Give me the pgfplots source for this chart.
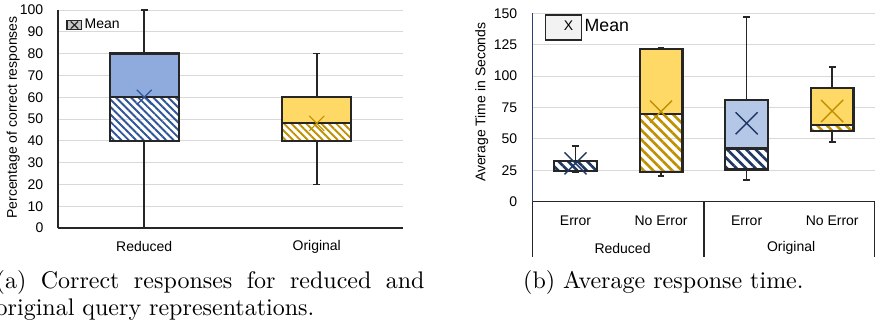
\documentclass[border=0pt]{standalone}
\usepackage{fontspec}
\newfontfamily\arial{Liberation Sans}
\usepackage{pgfplots}
\pgfplotsset{compat=1.18}
\usetikzlibrary{patterns.meta}
\definecolor{bluefill}{HTML}{8FAADC}
\definecolor{bluehatch}{HTML}{2F5597}
\definecolor{goldfill}{HTML}{FFD966}
\definecolor{goldhatch}{HTML}{BF9000}
\definecolor{lightblue}{HTML}{B4C7E7}
\definecolor{navy}{HTML}{203864}
\definecolor{navyline}{HTML}{2F3F6F}
\definecolor{gridc}{HTML}{D9D9D9}
\definecolor{boxline}{HTML}{262626}
\definecolor{legfill}{HTML}{F2F2F2}
\newcommand{\chartfont}{\arial\fontsize{5.83}{7}\selectfont}
\pgfplotsset{
  common/.style={
    scale only axis, anchor=south west, clip=false,
    axis x line=bottom, axis y line=left, axis line style={-},
    x axis line style={draw=boxline, line width=0.6pt},
    major tick length=0pt,
    ymajorgrids, grid style={gridc, line width=0.4pt},
    tick label style={font=\chartfont},
    /pgf/number format/assume math mode=true,
    yticklabel={\pgfmathprintnumber[assume math mode=true]{\tick}},
    label style={font=\chartfont},
  },
  solid/.style={draw=none, fill=#1},
  hatch/.style={draw=none, pattern={Lines[angle=-45,distance=2.2pt,line width=0.8pt]}, pattern color=#1},
  hatchb/.style={draw=none, pattern={Lines[angle=-45,distance=2.8pt,line width=1.1pt]}, pattern color=#1},
  outline/.style={draw=boxline, line width=0.95pt},
  whisk/.style={draw=boxline, line width=0.7pt},
}
\begin{document}
\begin{tikzpicture}
\useasboundingbox (0,0) rectangle (364.583pt,135.417pt);
% ---------------- (a)
\begin{axis}[common,
  at={(24.167pt,40.417pt)}, width=143.75pt, height=90.833pt,
  xmin=-0.5, xmax=1.5, ymin=0, ymax=100,
  y axis line style={draw=boxline, line width=0.6pt},
  xtick={0,1}, xticklabels={Reduced,Original},
  ytick={0,10,...,100},
  xticklabel style={anchor=center, yshift=-7.7pt},
  yticklabel style={xshift=-2.6pt},
  ylabel={Percentage of correct responses},
  ylabel style={at={(axis description cs:-0.130,0.507)}, anchor=center},
  legend style={at={(axis description cs:0.023,0.931)}, anchor=west, draw=none, fill=none,
    inner sep=0pt, font=\chartfont, nodes={inner sep=0.9pt}},
  legend cell align=left,
]
\addlegendimage{legend image code/.code={
  \draw[fill=gray!45, draw=boxline, line width=0.6pt] (0pt,-1.95pt) rectangle (6.1pt,1.95pt);
  \draw[boxline, line width=0.5pt] (1.5pt,-1.5pt) -- (4.6pt,1.5pt) (1.5pt,1.5pt) -- (4.6pt,-1.5pt);}}
\addlegendentry{Mean}
% Reduced
\addplot[solid=bluefill] coordinates {(-0.2,60) (0.2,60) (0.2,80) (-0.2,80)} -- cycle;
\addplot[hatch=bluehatch] coordinates {(-0.2,40) (0.2,40) (0.2,60) (-0.2,60)} -- cycle;
\addplot[outline] coordinates {(-0.2,40) (0.2,40) (0.2,80) (-0.2,80)} -- cycle;
\addplot[outline] coordinates {(-0.2,60) (0.2,60)};
\addplot[whisk] coordinates {(0,80) (0,100)};
\addplot[whisk] coordinates {(0,40) (0,0)};
\addplot[whisk] coordinates {(-0.02,100) (0.02,100)};
\addplot[whisk] coordinates {(-0.02,0) (0.02,0)};
\addplot[only marks, mark=x, mark size=4.4pt, bluehatch, mark options={line width=0.5pt}] coordinates {(0,60)};
% Original
\addplot[solid=goldfill] coordinates {(0.8,48) (1.2,48) (1.2,60) (0.8,60)} -- cycle;
\addplot[hatch=goldhatch] coordinates {(0.8,40) (1.2,40) (1.2,48) (0.8,48)} -- cycle;
\addplot[outline] coordinates {(0.8,40) (1.2,40) (1.2,60) (0.8,60)} -- cycle;
\addplot[outline] coordinates {(0.8,48) (1.2,48)};
\addplot[whisk] coordinates {(1,60) (1,80)};
\addplot[whisk] coordinates {(1,40) (1,20)};
\addplot[whisk] coordinates {(0.98,80) (1.02,80)};
\addplot[whisk] coordinates {(0.98,20) (1.02,20)};
\addplot[only marks, mark=x, mark size=4.4pt, goldhatch, mark options={line width=0.5pt}] coordinates {(1,48)};
\end{axis}
% ---------------- (b)
\begin{axis}[common,
  at={(221.96pt,51.375pt)}, width=142.62pt, height=78.5pt,
  xmin=-0.5, xmax=3.5, ymin=0, ymax=150,
  y axis line style={draw=navyline, line width=0.5pt},
  xtick={0,1,2,3}, xticklabels={Error,No Error,Error,No Error},
  extra x ticks={-0.5,1.5,3.5}, extra x tick labels={},
  extra x tick style={major tick length=22.9pt, tick align=outside,
    tick style={draw=boxline, line width=0.6pt}},
  ytick={0,25,...,150},
  xticklabel style={anchor=center, yshift=-7.9pt},
  yticklabel style={xshift=-2.9pt},
  ylabel={Average Time in Seconds},
  ylabel style={at={(axis description cs:-0.149,0.528)}, anchor=center},
  legend style={at={(axis description cs:0.034,0.925)}, anchor=west, draw=none, fill=none,
    inner sep=0pt, font=\arial\fontsize{7.4}{8.5}\selectfont, nodes={inner sep=1.2pt}},
  legend cell align=left,
]
\addlegendimage{legend image code/.code={
  \draw[fill=legfill, draw=boxline, line width=0.5pt] (0pt,-5.2pt) rectangle (14.9pt,5.2pt);
  \node[font=\chartfont, inner sep=0pt] at (7.45pt,0pt) {X};}}
\addlegendentry{Mean}
% Reduced Error
\addplot[hatchb=navy] coordinates {(-0.25,24.5) (0.25,24.5) (0.25,32.3) (-0.25,32.3)} -- cycle;
\addplot[outline] coordinates {(-0.25,24.5) (0.25,24.5) (0.25,32.3) (-0.25,32.3)} -- cycle;
\addplot[whisk] coordinates {(0,32.3) (0,44.3)};
\addplot[whisk] coordinates {(-0.04,44.3) (0.04,44.3)};
\addplot[whisk] coordinates {(-0.04,23.6) (0.04,23.6)};
\addplot[only marks, mark=x, mark size=6.5pt, navy, mark options={line width=0.6pt}] coordinates {(0,30.5)};
% Reduced No Error
\addplot[solid=goldfill] coordinates {(0.75,69.6) (1.25,69.6) (1.25,121.6) (0.75,121.6)} -- cycle;
\addplot[hatchb=goldhatch] coordinates {(0.75,23.9) (1.25,23.9) (1.25,69.6) (0.75,69.6)} -- cycle;
\addplot[outline] coordinates {(0.75,23.9) (1.25,23.9) (1.25,121.6) (0.75,121.6)} -- cycle;
\addplot[outline] coordinates {(0.75,69.6) (1.25,69.6)};
\addplot[whisk] coordinates {(1,121.6) (1,122.6)};
\addplot[whisk] coordinates {(0.96,122.6) (1.04,122.6)};
\addplot[whisk] coordinates {(1,23.9) (1,20.7)};
\addplot[whisk] coordinates {(0.96,20.7) (1.04,20.7)};
\addplot[only marks, mark=x, mark size=6.5pt, goldhatch, mark options={line width=0.6pt}] coordinates {(1,71.7)};
% Original Error
\addplot[solid=lightblue] coordinates {(1.75,42.3) (2.25,42.3) (2.25,81) (1.75,81)} -- cycle;
\addplot[hatchb=navy] coordinates {(1.75,25.6) (2.25,25.6) (2.25,42.3) (1.75,42.3)} -- cycle;
\addplot[outline] coordinates {(1.75,25.6) (2.25,25.6) (2.25,81) (1.75,81)} -- cycle;
\addplot[outline] coordinates {(1.75,42.3) (2.25,42.3)};
\addplot[whisk] coordinates {(2,81) (2,147)};
\addplot[whisk] coordinates {(1.96,147) (2.04,147)};
\addplot[whisk] coordinates {(2,25.6) (2,17.3)};
\addplot[whisk] coordinates {(1.96,17.3) (2.04,17.3)};
\addplot[only marks, mark=x, mark size=6.5pt, navy, mark options={line width=0.6pt}] coordinates {(2,62.4)};
% Original No Error
\addplot[solid=goldfill] coordinates {(2.75,61.2) (3.25,61.2) (3.25,90.4) (2.75,90.4)} -- cycle;
\addplot[hatchb=goldhatch] coordinates {(2.75,56.5) (3.25,56.5) (3.25,61.2) (2.75,61.2)} -- cycle;
\addplot[outline] coordinates {(2.75,56.5) (3.25,56.5) (3.25,90.4) (2.75,90.4)} -- cycle;
\addplot[outline] coordinates {(2.75,61.2) (3.25,61.2)};
\addplot[whisk] coordinates {(3,90.4) (3,107.5)};
\addplot[whisk] coordinates {(2.96,107.5) (3.04,107.5)};
\addplot[whisk] coordinates {(3,56.5) (3,47.4)};
\addplot[whisk] coordinates {(2.96,47.4) (3.04,47.4)};
\addplot[only marks, mark=x, mark size=6.5pt, goldhatch, mark options={line width=0.6pt}] coordinates {(3,72.2)};
% group labels
\node[font=\chartfont] at (axis cs:0.55,0) [yshift=-19.3pt] {Reduced};
\node[font=\chartfont] at (axis cs:2.52,0) [yshift=-19.3pt] {Original};
\end{axis}
% ---------------- captions
\node[anchor=base west, inner sep=0pt, font=\fontsize{10}{12}\selectfont] at (-2.0pt,15.0pt)
  {\makebox[178.7pt][s]{(a) Correct responses for reduced and}};
\node[anchor=base west, inner sep=0pt, font=\fontsize{10}{12}\selectfont] at (-2.0pt,3.8pt)
  {original query representations.};
\node[anchor=base west, inner sep=0pt, font=\fontsize{10}{12}\selectfont] at (217.8pt,15.0pt)
  {(b) Average response time.};
\end{tikzpicture}
\end{document}
